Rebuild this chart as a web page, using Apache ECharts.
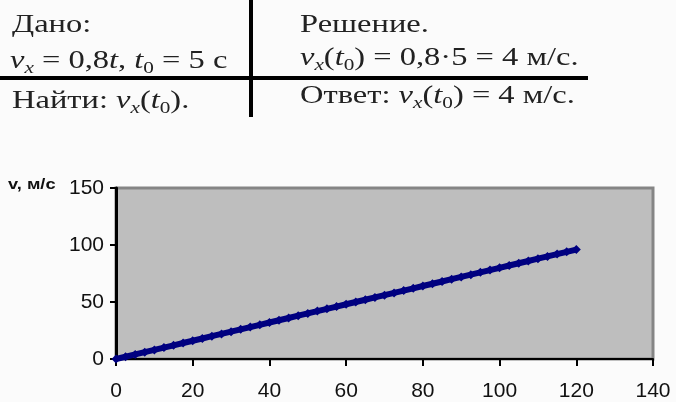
<!DOCTYPE html>
<html>
<head>
<meta charset="utf-8">
<script src="https://cdn.jsdelivr.net/npm/echarts@6/dist/echarts.min.js"></script>
<style>
html,body{margin:0;padding:0;background:#fbfbfb;}
#chart{width:676px;height:402px;}
</style>
</head>
<body>
<div id="chart"></div>
<script>
// Data: v = 0.8 t, t from 0 to 120
const tValues = [0,2.5,5,7.5,10,12.5,15,17.5,20,22.5,25,27.5,30,32.5,35,37.5,40,42.5,45,47.5,50,52.5,55,57.5,60,62.5,65,67.5,70,72.5,75,77.5,80,82.5,85,87.5,90,92.5,95,97.5,100,102.5,105,107.5,110,112.5,115,117.5,120];
const vValues = [0,2,4,6,8,10,12,14,16,18,20,22,24,26,28,30,32,34,36,38,40,42,44,46,48,50,52,54,56,58,60,62,64,66,68,70,72,74,76,78,80,82,84,86,88,90,92,94,96];
const xTicks = [0,20,40,60,80,100,120,140];
const yTicks = [0,50,100,150];
const yAxisTitle = 'v, м/с';

const serif = '"Liberation Serif","Times New Roman",serif';
const richStyles = {
  n: {fontFamily: serif, fontSize: 26, color: '#222', lineHeight: 32, verticalAlign: 'middle'},
  i: {fontFamily: serif, fontSize: 26, fontStyle: 'italic', color: '#222', lineHeight: 32, verticalAlign: 'middle'},
  s: {fontFamily: serif, fontSize: 17, color: '#222', lineHeight: 32, verticalAlign: 'bottom'},
  si: {fontFamily: serif, fontSize: 17, fontStyle: 'italic', color: '#222', lineHeight: 32, verticalAlign: 'bottom'}
};
function txt(x, y, text, sx) {
  return {
    type: 'text', x: x, y: y, scaleX: sx, scaleY: 1,
    style: {text: text, rich: richStyles, fill: '#222', font: '26px ' + serif, textAlign: 'left', textVerticalAlign: 'top'}
  };
}

const chart = echarts.init(document.getElementById('chart'), null, {renderer: 'canvas'});
const pairs = tValues.map((t, k) => [t, vValues[k]]);
const tickFont = '"Liberation Sans Narrow","Arial Narrow","Liberation Sans",Arial,sans-serif';

chart.setOption({
  backgroundColor: '#fbfbfb',
  animation: false,
  grid: {
    left: 116, top: 188, right: 23, bottom: 42,
    show: true, backgroundColor: '#bebebe', borderColor: '#858585', borderWidth: 3
  },
  xAxis: {
    type: 'value', min: xTicks[0], max: xTicks[xTicks.length - 1], interval: 20,
    splitLine: {show: false},
    axisLine: {show: true, onZero: false, lineStyle: {color: '#000', width: 2}},
    axisTick: {show: true, length: 7, lineStyle: {color: '#000', width: 2}},
    axisLabel: {margin: 22, color: '#111', fontSize: 21, fontFamily: tickFont}
  },
  yAxis: {
    type: 'value', min: yTicks[0], max: yTicks[yTicks.length - 1], interval: 50,
    splitLine: {show: false},
    axisLine: {show: true, onZero: false, lineStyle: {color: '#000', width: 3}},
    axisTick: {show: true, length: 6, lineStyle: {color: '#000', width: 2}},
    axisLabel: {margin: 12, color: '#111', fontSize: 21, fontFamily: tickFont}
  },
  series: [{
    type: 'line',
    data: pairs,
    lineStyle: {color: '#000080', width: 6},
    itemStyle: {color: '#000080'},
    symbol: 'diamond',
    symbolSize: 9,
    showSymbol: true
  }],
  graphic: [
    {type: 'line', shape: {x1: 251, y1: 0, x2: 251, y2: 117}, style: {stroke: '#000', lineWidth: 4}},
    {type: 'line', shape: {x1: 0, y1: 78, x2: 588, y2: 78}, style: {stroke: '#000', lineWidth: 4}},
    txt(12, 9, '{n|Дано:}', 1.25),
    txt(10, 45, '{i|v}{si|x}{n| = 0,8}{i|t}{n|, }{i|t}{s|0}{n| = 5 с}', 1.25),
    txt(12, 85, '{n|Найти: }{i|v}{si|x}{n|(}{i|t}{s|0}{n|).}', 1.25),
    txt(300, 9, '{n|Решение.}', 1.25),
    txt(300, 42, '{i|v}{si|x}{n|(}{i|t}{s|0}{n|) = 0,8·5 = 4 м/с.}', 1.25),
    txt(300, 80, '{n|Ответ: }{i|v}{si|x}{n|(}{i|t}{s|0}{n|) = 4 м/с.}', 1.25),
    {type: 'text', x: 8, y: 178, scaleX: 1.3, style: {text: yAxisTitle, fill: '#111', font: 'bold 14px "Liberation Sans",Arial,sans-serif', textVerticalAlign: 'top'}}
  ]
});
</script>
</body>
</html>
